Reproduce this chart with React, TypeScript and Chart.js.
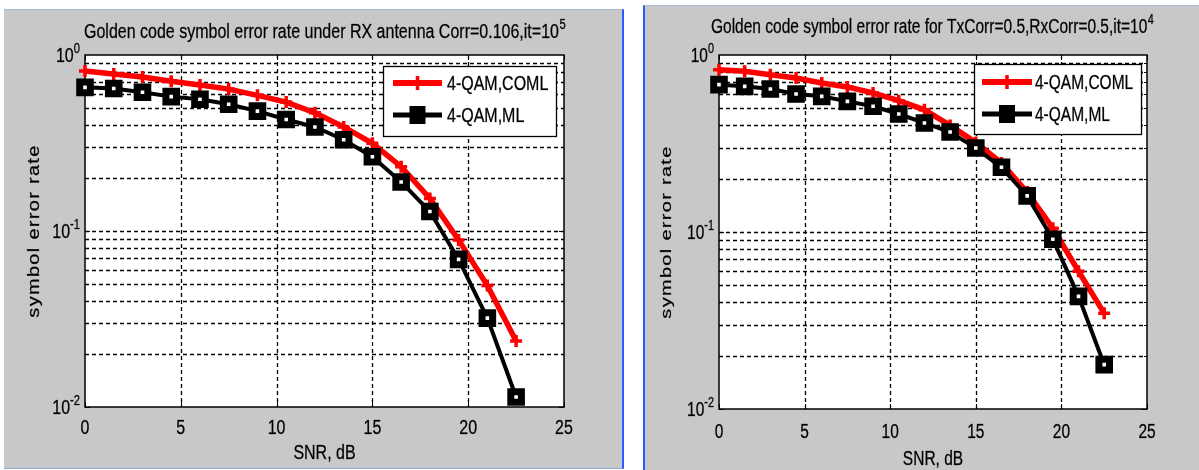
import React, { useEffect, useRef } from "react";
import { Chart, registerables } from "chart.js";
Chart.register(...registerables);

// ---------- data ----------
const snrDb = [0, 1.5, 3, 4.5, 6, 7.5, 9, 10.5, 12, 13.5, 15, 16.5, 18, 19.5, 21, 22.5];
const rxCorrComl = [0.81, 0.78, 0.75, 0.71, 0.675, 0.64, 0.59, 0.54, 0.47, 0.39, 0.315, 0.232, 0.153, 0.089, 0.049, 0.0237];
const rxCorrMl = [0.655, 0.645, 0.614, 0.58, 0.56, 0.525, 0.48, 0.43, 0.39, 0.33, 0.264, 0.19, 0.129, 0.069, 0.032, 0.0114];
const txRxCorrComl = [0.826, 0.81, 0.774, 0.741, 0.695, 0.66, 0.61, 0.552, 0.49, 0.4, 0.32, 0.245, 0.168, 0.105, 0.06, 0.0347];
const txRxCorrMl = [0.68, 0.665, 0.642, 0.602, 0.584, 0.547, 0.513, 0.464, 0.413, 0.367, 0.298, 0.232, 0.16, 0.091, 0.0433, 0.0178];
const xTicks = [0, 5, 10, 15, 20, 25];
const yDecades = [-2, -1, 0];
const seriesNames = ["4-QAM,COML", "4-QAM,ML"];
const xLabel = "SNR, dB";
const yLabel = "symbol error rate";
const leftTitle = "Golden code symbol error rate under RX antenna Corr=0.106,it=10";
const leftTitleSup = "5";
const rightTitle = "Golden code symbol error rate for TxCorr=0.5,RxCorr=0.5,it=10";
const rightTitleSup = "4";

// ---------- style ----------
const FONT = '"Liberation Sans", Arial, Helvetica, sans-serif';
const FS = 20;
const SUPFS = 14;
const RED = "#ff0000";
const BLACK = "#000000";
const GRAY = "#c8c8c8";

function txt(ctx: CanvasRenderingContext2D, sx: number, s: string, x: number, y: number, size: number, align: CanvasTextAlign, baseline: CanvasTextBaseline, rot = 0, spacing = 0) {
  ctx.save();
  ctx.translate(x, y);
  ctx.scale(sx, 1);
  if (rot) ctx.rotate(rot);
  ctx.font = `${size}px ${FONT}`;
  (ctx as any).letterSpacing = spacing + "px";
  ctx.fillStyle = "#000";
  ctx.strokeStyle = "rgba(0,0,0,0.55)";
  ctx.lineWidth = 0.5;
  ctx.textAlign = align;
  ctx.textBaseline = baseline;
  ctx.fillText(s, 0, 0);
  ctx.strokeText(s, 0, 0);
  ctx.restore();
}
function tw(ctx: CanvasRenderingContext2D, sx: number, s: string, size: number) {
  ctx.save();
  ctx.font = `${size}px ${FONT}`;
  (ctx as any).letterSpacing = "0px";
  const w = ctx.measureText(s).width * sx;
  ctx.restore();
  return w;
}

interface PanelCfg {
  box: { left: number; top: number; width: number; height: number };
  pad: { left: number; top: number; right: number; bottom: number };
  sx: number;
  title: string;
  titleSup: string;
  titleX: number;
  titleY: number;
  xTickY: number;
  xLabelY: number;
  yLabelX: number;
  legend: { x: number; y: number; w: number; h: number; l1: number; l2: number; sx0: number; sx1: number; tx: number };
  coml: number[];
  ml: number[];
  borderLeft?: boolean;
  borderRight?: boolean;
  borderBottom?: boolean;
}

function makePlugin(cfg: PanelCfg) {
  const SX = cfg.sx;
  return {
    id: "matlabLook",
    beforeDatasetsDraw(chart: any) {
      const { ctx, chartArea: a, scales } = chart;
      const xs = scales.x, ys = scales.y;
      ctx.save();
      ctx.fillStyle = "#fff";
      ctx.fillRect(a.left, a.top, a.right - a.left, a.bottom - a.top);
      // grid
      ctx.strokeStyle = "#000";
      ctx.lineWidth = 1.3;
      ctx.setLineDash([4, 3]);
      ctx.beginPath();
      for (const t of xTicks) {
        const px = Math.round(xs.getPixelForValue(t)) + 0.5;
        if (t === xTicks[0] || t === xTicks[xTicks.length - 1]) continue;
        ctx.moveTo(px, a.top);
        ctx.lineTo(px, a.bottom);
      }
      for (let d = yDecades[0]; d < yDecades[yDecades.length - 1]; d++) {
        for (let k = 1; k <= 9; k++) {
          if (d === yDecades[0] && k === 1) continue;
          const v = k * Math.pow(10, d);
          const py = Math.round(ys.getPixelForValue(v)) + 0.5;
          ctx.moveTo(a.left, py);
          ctx.lineTo(a.right, py);
        }
      }
      ctx.stroke();
      ctx.setLineDash([]);
      // ticks
      ctx.lineWidth = 1;
      ctx.beginPath();
      for (const t of xTicks) {
        const px = Math.round(xs.getPixelForValue(t)) + 0.5;
        ctx.moveTo(px, a.bottom); ctx.lineTo(px, a.bottom - 5);
        ctx.moveTo(px, a.top); ctx.lineTo(px, a.top + 5);
      }
      for (let d = yDecades[0]; d < yDecades[yDecades.length - 1]; d++) {
        for (let k = 1; k <= 9; k++) {
          const v = k * Math.pow(10, d);
          const py = Math.round(ys.getPixelForValue(v)) + 0.5;
          const L = k === 1 ? 5 : 3;
          ctx.moveTo(a.left, py); ctx.lineTo(a.left + L, py);
          ctx.moveTo(a.right, py); ctx.lineTo(a.right - L, py);
        }
      }
      ctx.stroke();
      // frame
      ctx.lineWidth = 1.5;
      ctx.strokeRect(a.left, a.top, a.right - a.left, a.bottom - a.top);
      ctx.restore();
    },
    afterDatasetsDraw(chart: any) {
      const { ctx, chartArea: a, scales } = chart;
      const xs = scales.x, ys = scales.y;
      // legend
      const L = cfg.legend;
      ctx.save();
      ctx.fillStyle = "#fff";
      ctx.fillRect(L.x, L.y, L.w, L.h);
      ctx.strokeStyle = "#000";
      ctx.lineWidth = 1.3;
      ctx.strokeRect(L.x + 0.5, L.y + 0.5, L.w, L.h);
      const mid = (L.sx0 + L.sx1) / 2;
      // COML
      ctx.strokeStyle = RED;
      ctx.lineWidth = 6;
      ctx.beginPath(); ctx.moveTo(L.sx0, L.l1); ctx.lineTo(L.sx1, L.l1); ctx.stroke();
      ctx.lineWidth = 3.5;
      ctx.beginPath(); ctx.moveTo(mid, L.l1 - 7); ctx.lineTo(mid, L.l1 + 7); ctx.stroke();
      // ML
      ctx.strokeStyle = BLACK;
      ctx.lineWidth = 5;
      ctx.beginPath(); ctx.moveTo(L.sx0, L.l2); ctx.lineTo(L.sx1, L.l2); ctx.stroke();
      ctx.fillStyle = "#000";
      ctx.fillRect(mid - 8, L.l2 - 9, 16, 18);
      ctx.restore();
      txt(ctx, SX, seriesNames[0], L.tx, L.l1 + 7, FS, "left", "alphabetic");
      txt(ctx, SX, seriesNames[1], L.tx, L.l2 + 7, FS, "left", "alphabetic");
      // x tick labels
      for (const t of xTicks) {
        txt(ctx, SX, String(t), xs.getPixelForValue(t), cfg.xTickY, FS, "center", "alphabetic");
      }
      // y tick labels 10^d
      const R = a.left - 5;
      for (const d of yDecades) {
        const py = ys.getPixelForValue(Math.pow(10, d));
        const sup = String(d);
        const sw = tw(ctx, SX, sup, SUPFS);
        txt(ctx, SX, "10", R - sw, py + 7, FS, "right", "alphabetic");
        txt(ctx, SX, sup, R - sw, py - 2, SUPFS, "left", "alphabetic");
      }
      // axis titles
      txt(ctx, SX, xLabel, (a.left + a.right) / 2, cfg.xLabelY, FS, "center", "alphabetic");
      txt(ctx, SX, yLabel, cfg.yLabelX, (a.top + a.bottom) / 2, FS, "center", "middle", -Math.PI / 2, 1.3);
      // title
      const w = tw(ctx, SX, cfg.title, FS);
      txt(ctx, SX, cfg.title, cfg.titleX, cfg.titleY, FS, "left", "alphabetic");
      txt(ctx, SX, cfg.titleSup, cfg.titleX + w + 0.5, cfg.titleY - 9, SUPFS, "left", "alphabetic");
    },
  };
}

function Panel({ cfg }: { cfg: PanelCfg }) {
  const ref = useRef<HTMLCanvasElement | null>(null);
  useEffect(() => {
    if (!ref.current) return;
    const chart = new Chart(ref.current, {
      type: "line",
      data: {
        datasets: [
          {
            label: seriesNames[0],
            data: snrDb.map((x, i) => ({ x, y: cfg.coml[i] })),
            borderColor: RED,
            backgroundColor: RED,
            borderWidth: 5.5,
            pointStyle: "cross",
            pointRadius: 6,
            pointBorderWidth: 3.5,
            pointBorderColor: RED,
            clip: false as any,
            order: 2,
            tension: 0,
          },
          {
            label: seriesNames[1],
            data: snrDb.map((x, i) => ({ x, y: cfg.ml[i] })),
            borderColor: BLACK,
            backgroundColor: "#ffffff",
            borderWidth: 4,
            pointStyle: "rect",
            pointRadius: 7.5,
            pointBorderWidth: 7,
            pointBorderColor: BLACK,
            pointBackgroundColor: "#ffffff",
            clip: false as any,
            order: 1,
            tension: 0,
          },
        ],
      },
      options: {
        animation: false,
        responsive: false,
        maintainAspectRatio: false,
        devicePixelRatio: 1,
        layout: { padding: cfg.pad, autoPadding: false } as any,
        plugins: { legend: { display: false }, tooltip: { enabled: false }, title: { display: false } },
        events: [],
        scales: {
          x: {
            type: "linear",
            min: xTicks[0],
            max: xTicks[xTicks.length - 1],
            ticks: { display: false },
            grid: { display: false },
            border: { display: false },
            afterFit: (s: any) => { s.height = 0; },
          },
          y: {
            type: "logarithmic",
            min: Math.pow(10, yDecades[0]),
            max: Math.pow(10, yDecades[yDecades.length - 1]),
            ticks: { display: false },
            grid: { display: false },
            border: { display: false },
            afterFit: (s: any) => { s.width = 0; },
          },
        },
      },
      plugins: [makePlugin(cfg)],
    });
    return () => chart.destroy();
  }, [cfg]);
  const b = cfg.box;
  return (
    <div
      style={{
        position: "absolute",
        left: b.left,
        top: b.top,
        width: b.width,
        height: b.height,
        background: GRAY,
        borderTop: "1px solid #a9bcd6",
        borderRight: cfg.borderRight ? "2px solid #2a5cff" : undefined,
        borderLeft: cfg.borderLeft ? "2px solid #2a5cff" : undefined,
        borderBottom: cfg.borderBottom ? "1px solid #8fa8d8" : undefined,
        boxSizing: "border-box",
        overflow: "hidden",
      }}
    >
      <canvas ref={ref} width={b.width} height={b.height} style={{ position: "absolute", left: 0, top: -1, width: b.width, height: b.height }} />
    </div>
  );
}

const leftCfg: PanelCfg = {
  box: { left: 4, top: 9, width: 620, height: 460 },
  pad: { left: 81, top: 46, right: 60, bottom: 62 },
  sx: 0.8,
  title: leftTitle,
  titleSup: leftTitleSup,
  titleX: 80,
  titleY: 29,
  xTickY: 425,
  xLabelY: 450,
  yLabelX: 31,
  legend: { x: 379, y: 57, w: 173, h: 70, l1: 74, l2: 106, sx0: 389, sx1: 438, tx: 443 },
  coml: rxCorrComl,
  ml: rxCorrMl,
  borderRight: true,
  borderBottom: true,
};

const rightCfg: PanelCfg = {
  box: { left: 643, top: 5, width: 556, height: 465 },
  pad: { left: 74, top: 50, right: 54, bottom: 61 },
  sx: 0.775,
  title: rightTitle,
  titleSup: rightTitleSup,
  titleX: 66,
  titleY: 28,
  xTickY: 433,
  xLabelY: 460,
  yLabelX: 22,
  legend: { x: 329, y: 59, w: 167, h: 70, l1: 77, l2: 109, sx0: 337, sx1: 387, tx: 390 },
  coml: txRxCorrComl,
  ml: txRxCorrMl,
  borderLeft: true,
};

export default function App() {
  return (
    <div style={{ position: "fixed", left: 0, top: 0, width: 1199, height: 470, background: "#fff", overflow: "hidden" }}>
      <Panel cfg={leftCfg} />
      <Panel cfg={rightCfg} />
    </div>
  );
}
